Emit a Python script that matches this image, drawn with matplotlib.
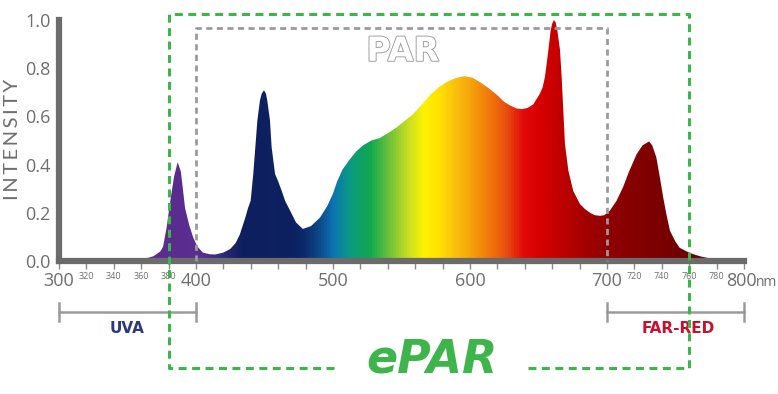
import matplotlib
matplotlib.use('Agg')
import matplotlib.pyplot as plt
import matplotlib.patheffects as pe
from matplotlib.colors import LinearSegmentedColormap
from matplotlib.transforms import blended_transform_factory, offset_copy
import numpy as np

# spectrum (wavelength nm, relative intensity)
wl = [300, 340, 355, 362, 369, 374, 376, 378.6, 381, 384, 386.6, 389, 392, 395, 398,
      401, 405, 410, 414, 420, 425, 429, 432, 436, 438, 439.9, 441.8, 443.3, 444.8, 446.7,
      448, 449.6, 451, 452, 454, 455.2, 457.7, 460, 462.5, 465, 468.6, 473, 478, 484,
      490.5, 496, 500, 503, 507, 512, 517, 522, 528, 534, 540, 546.5, 552, 558.5, 565,
      571, 577, 583, 590, 596, 602, 607, 613, 619.5, 625, 629, 634, 637.7, 642, 646.2,
      651, 653, 654.7, 656, 657.2, 658.9, 660, 661.3, 662.5, 663.7, 665.7, 666.9, 668.1,
      669.3, 671.8, 675.4, 680.3, 684, 687.6, 691, 695, 698, 702, 707, 711.7, 716, 721.7,
      726, 730.7, 733, 736, 738.5, 741, 743.5, 746, 750, 753, 758, 763, 769, 775, 780,
      785, 800]
inten = [0, 0, 0.003, 0.008, 0.02, 0.04, 0.06, 0.14, 0.24, 0.35, 0.41, 0.37, 0.22, 0.15, 0.097,
         0.06, 0.035, 0.028, 0.027, 0.035, 0.05, 0.075, 0.11, 0.18, 0.22, 0.25, 0.361, 0.472, 0.583, 0.667,
         0.695, 0.708, 0.695, 0.667, 0.583, 0.472, 0.361, 0.33, 0.292, 0.25, 0.21, 0.16, 0.133, 0.145,
         0.18, 0.23, 0.28, 0.33, 0.38, 0.42, 0.455, 0.48, 0.50, 0.51, 0.53, 0.555, 0.58, 0.61, 0.65,
         0.69, 0.72, 0.743, 0.76, 0.767, 0.76, 0.743, 0.72, 0.69, 0.66, 0.646, 0.633, 0.63, 0.635, 0.65,
         0.694, 0.72, 0.764, 0.82, 0.875, 0.958, 0.985, 1.0, 0.99, 0.958, 0.875, 0.764, 0.625,
         0.486, 0.375, 0.29, 0.236, 0.215, 0.2, 0.19, 0.1875, 0.19, 0.208, 0.25, 0.306, 0.37, 0.444,
         0.48, 0.496, 0.48, 0.43, 0.35, 0.264, 0.19, 0.125, 0.08, 0.055, 0.04, 0.028, 0.018, 0.011, 0.005,
         0, 0]

major = [300, 400, 500, 600, 700, 800]
minor_lab = [320, 340, 360, 380, 720, 740, 760, 780]
yt = [0.0, 0.2, 0.4, 0.6, 0.8, 1.0]
par = (400, 700)
epar = (380, 760)
uva = (300, 400)
farred = (700, 800)

# colour ramp of the fill
stops = [(300, '#5a2d8c'), (380, '#5b2c8e'), (405, '#5a2e92'), (420, '#2a2a78'), (432, '#0f1f5f'),
         (470, '#0c2160'), (480, '#0b2c6c'), (490, '#0d4a8c'), (500, '#0b74b4'), (512, '#0a9a84'),
         (527, '#10a84f'), (541, '#6cc13a'), (556, '#d0e020'), (567, '#fff200'), (578, '#ffe000'),
         (590, '#fbbf10'), (602, '#f5a00a'), (614, '#f07a0a'), (627, '#e94e10'), (639, '#e20a0a'),
         (650, '#d80000'), (660, '#cc0000'), (683, '#a50000'), (702, '#900000'), (731, '#800000'),
         (766, '#6a0000'), (800, '#600000')]
cmap = LinearSegmentedColormap.from_list('spec', [((w - 300) / 500, c) for w, c in stops])

gray = '#6b6b6b'
green = '#3db54a'
numfont = ['Liberation Sans Narrow', 'Open Sans', 'DejaVu Sans']

fig = plt.figure(figsize=(7.78, 3.94), dpi=100)
ax = fig.add_axes([59/778, 1 - 261/394, 685/778, 241/394])

grad = np.linspace(0, 1, 1000).reshape(1, -1)
im = ax.imshow(grad, cmap=cmap, extent=[300, 800, 0, 1.05], aspect='auto', origin='lower', zorder=1)
poly = ax.fill(wl, inten, facecolor='none', edgecolor='none')[0]
im.set_clip_path(poly)

ax.set_xlim(300, 800)
ax.set_ylim(0, 1)
for s in ['top', 'right']:
    ax.spines[s].set_visible(False)
for s in ['left', 'bottom']:
    ax.spines[s].set_color(gray)
    ax.spines[s].set_linewidth(4.5)
    ax.spines[s].set_zorder(5)

# last major label drawn by hand so that "nm" fits next to it
ax.set_xticks(major)
ax.set_xticklabels([str(v) if v != 800 else '' for v in major], fontsize=13, color='#6e6e6e',
                   family=numfont)
mt = [v for v in range(320, 800, 20) if v not in major]
ax.set_xticks(mt, minor=True)
ax.set_xticklabels([str(v) if v in minor_lab else '' for v in mt], minor=True,
                   fontsize=6.5, color='#6e6e6e', family=numfont)
ax.tick_params(axis='x', which='both', direction='out', length=6, width=1, color='#8a8a8a', pad=2)
ax.set_yticks(yt)
ax.set_yticklabels(['%.1f' % v for v in yt], fontsize=13, color='#6e6e6e', family=numfont)
ax.tick_params(axis='y', length=0, pad=6)

bt = blended_transform_factory(ax.transData, ax.transAxes)
ax.text(major[-1], -0.045, str(major[-1]), transform=offset_copy(bt, fig=fig, x=-3, units='dots'),
        fontsize=13, color='#6e6e6e', family=numfont, ha='center', va='top', clip_on=False)
fig.text(0.9995, 1 - 283/394, 'nm', fontsize=10, color='#6e6e6e', family=numfont,
         ha='right', va='center')

fig.text(0.016, 0.645, '\u2009'.join('INTENSITY'), rotation=90, ha='center', va='center',
         fontsize=14.5, color='#6e6e6e', family=['Lato', 'DejaVu Sans'])

# PAR box
ax.plot([par[0], par[0], par[1], par[1]], [0, 0.965, 0.965, 0], color='#9a9a9a', lw=2,
        ls=(0, (2.2, 1.6)), zorder=6, clip_on=False)
t = ax.text(551, 0.87, 'PAR', fontsize=24, fontweight='bold', color='white', ha='center',
            va='center', zorder=6)
t.set_path_effects([pe.Stroke(linewidth=1.3, foreground='#9a9a9a'), pe.Normal()])

# ePAR box
ax.plot([501, epar[0], epar[0], epar[1], epar[1], 642], [-0.446, -0.446, 1.025, 1.025, -0.446, -0.446],
        color=green, lw=2.2, ls=(0, (2.6, 1.8)), zorder=7, clip_on=False)
ax.text(572, -0.41, 'ePAR', fontsize=33, fontweight='bold', fontstyle='italic', color=green,
        ha='center', va='center', clip_on=False)

# UVA / FAR-RED brackets
for (a, b), lab, col, xc in [(uva, 'UVA', '#2b3a7e', 350), (farred, 'FAR-RED', '#c8102e', 752)]:
    ax.plot([a, b], [-0.2125, -0.2125], color='#9a9a9a', lw=1.8, clip_on=False)
    for e in (a, b):
        ax.plot([e, e], [-0.175, -0.25], color='#9a9a9a', lw=1.8, clip_on=False)
    ax.text(xc, -0.28, lab, fontsize=11, fontweight='bold', color=col, ha='center', va='center',
            clip_on=False)

plt.savefig('out.png', dpi=100)
